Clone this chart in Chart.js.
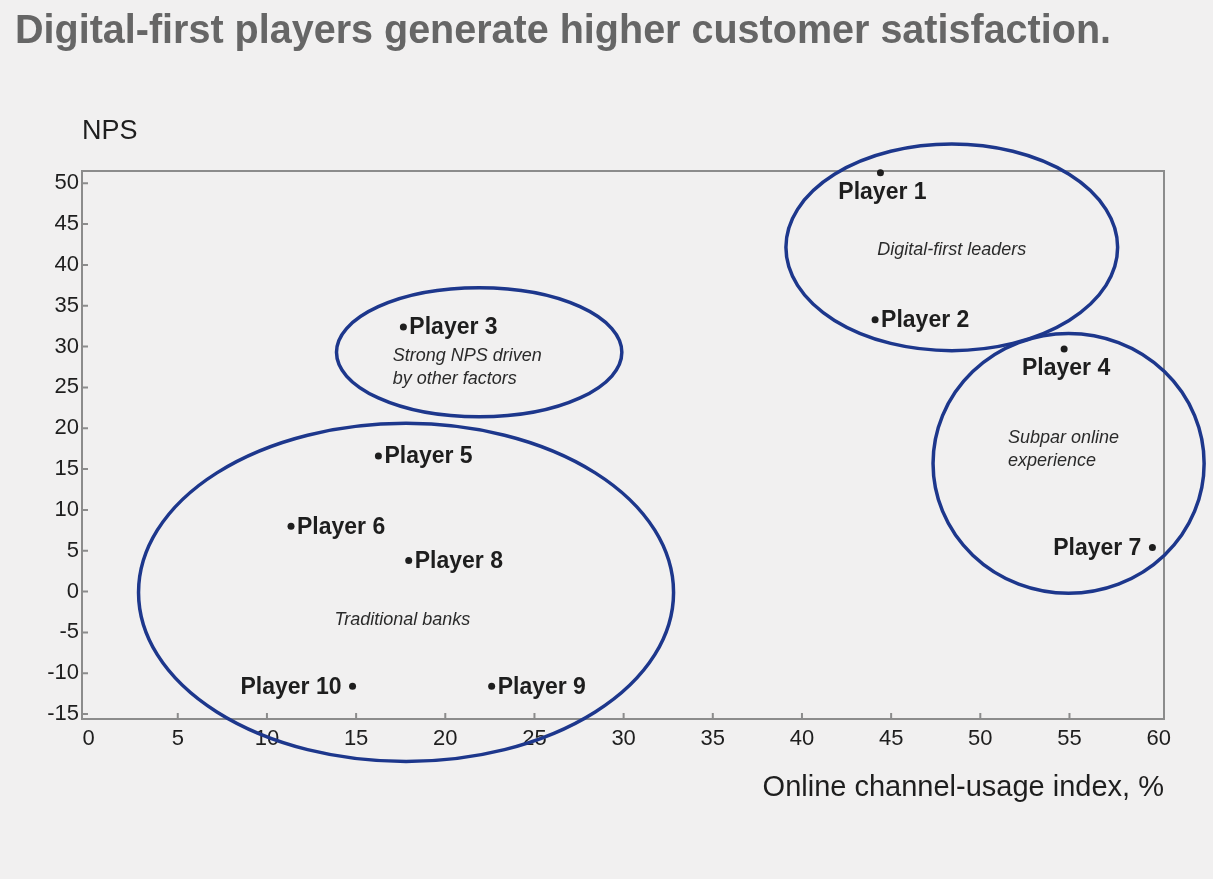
<!DOCTYPE html>
<html>
<head>
<meta charset="utf-8">
<title>NPS vs online channel usage</title>
<script src="https://cdn.jsdelivr.net/npm/chart.js@4/dist/chart.umd.min.js"></script>
<style>
  html, body { margin: 0; padding: 0; background: #f1f0f0; }
  #wrap { width: 1213px; height: 879px; }
</style>
</head>
<body>
<div id="wrap"><canvas id="npsChart" width="1213" height="879"></canvas></div>
<script>
// players, their online channel usage (%) and NPS
var players    = ['Player 1', 'Player 2', 'Player 3', 'Player 4', 'Player 5',
                  'Player 6', 'Player 7', 'Player 8', 'Player 9', 'Player 10'];
var usageIndex = [44.4, 44.1, 17.65, 54.7, 16.25, 11.35, 59.65, 17.95, 22.6, 14.8];
var npsScore   = [51.3, 33.3, 32.4, 29.7, 16.6, 8.0, 5.4, 3.8, -11.6, -11.6];

var xTicks = [0, 5, 10, 15, 20, 25, 30, 35, 40, 45, 50, 55, 60];
var yTicks = [-15, -10, -5, 0, 5, 10, 15, 20, 25, 30, 35, 40, 45, 50];

// groups, outlined with ellipses (centre and radii in axis units)
var groupNames = ['Digital-first leaders', 'Strong NPS driven\nby other factors',
                  'Subpar online\nexperience', 'Traditional banks'];
var groupX  = [48.4, 21.9, 54.95, 17.8];
var groupY  = [42.15, 29.3, 15.7, -0.1];
var groupRX = [9.3, 8.0, 7.6, 15.0];
var groupRY = [12.65, 7.9, 15.9, 20.7];

var chartTitle = 'Digital-first players generate higher customer satisfaction.';
var yTitle = 'NPS';
var xTitle = 'Online channel-usage index, %';

var FONT = '"Liberation Sans", Arial, Helvetica, sans-serif';
var INK = '#1e1e1e';
var RING = '#1d378c';

// where each player's name sits relative to its dot
var labelSide = ['below', 'right', 'right', 'below', 'right',
                 'right', 'left', 'right', 'right', 'left'];
// caption anchors: [x, y, align]
var captionAt = [[48.4, 41.8, 'center'], [17.05, 28.9, 'left'],
                 [51.55, 18.85, 'left'], [17.6, -3.5, 'center']];

var decorations = {
  id: 'decorations',
  beforeDraw: function (chart) {
    var ctx = chart.ctx;
    ctx.save();
    ctx.fillStyle = '#f1f0f0';
    ctx.fillRect(0, 0, chart.width, chart.height);
    ctx.restore();
  },
  beforeDatasetsDraw: function (chart) {
    var ctx = chart.ctx, a = chart.chartArea;
    var xs = chart.scales.x, ys = chart.scales.y;
    ctx.save();
    ctx.strokeStyle = '#8c8c8c';
    ctx.lineWidth = 2;
    ctx.strokeRect(a.left, a.top, a.right - a.left, a.bottom - a.top);
    // short ticks pointing into the plot
    ctx.beginPath();
    xs.ticks.forEach(function (t) {
      var px = xs.getPixelForValue(t.value);
      if (px - a.left < 10 || a.right - px < 10) return;
      ctx.moveTo(px, a.bottom);
      ctx.lineTo(px, a.bottom - 6);
    });
    ys.ticks.forEach(function (t) {
      var py = ys.getPixelForValue(t.value);
      if (py - a.top < 10 || a.bottom - py < 4) return;
      ctx.moveTo(a.left, py);
      ctx.lineTo(a.left + 6, py);
    });
    ctx.stroke();
    ctx.restore();
  },
  afterDatasetsDraw: function (chart) {
    var ctx = chart.ctx;
    var meta = chart.getDatasetMeta(0);
    ctx.save();
    ctx.fillStyle = INK;
    ctx.font = 'bold 23px ' + FONT;
    ctx.textBaseline = 'middle';
    meta.data.forEach(function (pt, i) {
      var side = labelSide[i];
      if (side === 'below') {
        ctx.textAlign = 'center';
        ctx.fillText(players[i], pt.x + 2, pt.y + 20);
      } else if (side === 'left') {
        ctx.textAlign = 'right';
        ctx.fillText(players[i], pt.x - 11, pt.y + 1);
      } else {
        ctx.textAlign = 'left';
        ctx.fillText(players[i], pt.x + 6, pt.y + 1);
      }
    });
    ctx.restore();
  },
  afterDraw: function (chart) {
    var ctx = chart.ctx;
    var xs = chart.scales.x, ys = chart.scales.y;
    ctx.save();

    // group outlines
    ctx.strokeStyle = RING;
    ctx.lineWidth = 3.5;
    groupNames.forEach(function (name, i) {
      var cx = xs.getPixelForValue(groupX[i]);
      var cy = ys.getPixelForValue(groupY[i]);
      var rx = Math.abs(xs.getPixelForValue(groupX[i] + groupRX[i]) - cx);
      var ry = Math.abs(ys.getPixelForValue(groupY[i] + groupRY[i]) - cy);
      ctx.beginPath();
      ctx.ellipse(cx, cy, rx, ry, 0, 0, Math.PI * 2);
      ctx.stroke();
    });

    // group captions
    ctx.fillStyle = '#2a2a2a';
    ctx.font = 'italic 18px ' + FONT;
    ctx.textBaseline = 'middle';
    groupNames.forEach(function (name, i) {
      var c = captionAt[i];
      var px = xs.getPixelForValue(c[0]);
      var py = ys.getPixelForValue(c[1]);
      ctx.textAlign = c[2];
      name.split('\n').forEach(function (line, k) {
        ctx.fillText(line, px, py + k * 23.5);
      });
    });

    // heading and y axis name
    ctx.textAlign = 'left';
    ctx.textBaseline = 'alphabetic';
    ctx.fillStyle = '#666666';
    ctx.font = 'bold 40px ' + FONT;
    ctx.fillText(chartTitle, 15, 43, 1096);
    ctx.fillStyle = INK;
    ctx.font = '27px ' + FONT;
    ctx.fillText(yTitle, 82, 139);
    ctx.restore();
  }
};

var ctx = document.getElementById('npsChart').getContext('2d');
var npsChart = new Chart(ctx, {
  type: 'scatter',
  data: {
    datasets: [{
      data: usageIndex.map(function (u, i) { return { x: u, y: npsScore[i] }; }),
      pointRadius: 3.5,
      pointBackgroundColor: INK,
      pointBorderWidth: 0,
      clip: false
    }]
  },
  options: {
    responsive: false,
    animation: false,
    layout: { padding: { top: 171, left: 0, right: 49, bottom: 0 } },
    plugins: {
      legend: { display: false },
      tooltip: { enabled: false }
    },
    scales: {
      x: {
        type: 'linear',
        min: -0.37,
        max: 60.3,
        afterBuildTicks: function (axis) {
          axis.ticks = xTicks.map(function (v) { return { value: v }; });
        },
        afterFit: function (axis) { axis.height = 160; },
        grid: { display: false, drawTicks: false },
        border: { display: false },
        ticks: {
          autoSkip: false,
          maxRotation: 0,
          padding: 7,
          color: INK,
          font: { family: FONT, size: 22 }
        },
        title: {
          display: true,
          text: xTitle,
          align: 'end',
          color: INK,
          font: { family: FONT, size: 29 },
          padding: { top: 0, bottom: 74 }
        }
      },
      y: {
        type: 'linear',
        min: -15.6,
        max: 51.5,
        afterBuildTicks: function (axis) {
          axis.ticks = yTicks.map(function (v) { return { value: v }; });
        },
        afterFit: function (axis) { axis.width = 82; },
        grid: { display: false, drawTicks: false },
        border: { display: false },
        ticks: {
          autoSkip: false,
          padding: 3,
          color: INK,
          font: { family: FONT, size: 22 }
        }
      }
    }
  },
  plugins: [decorations]
});
</script>
</body>
</html>
